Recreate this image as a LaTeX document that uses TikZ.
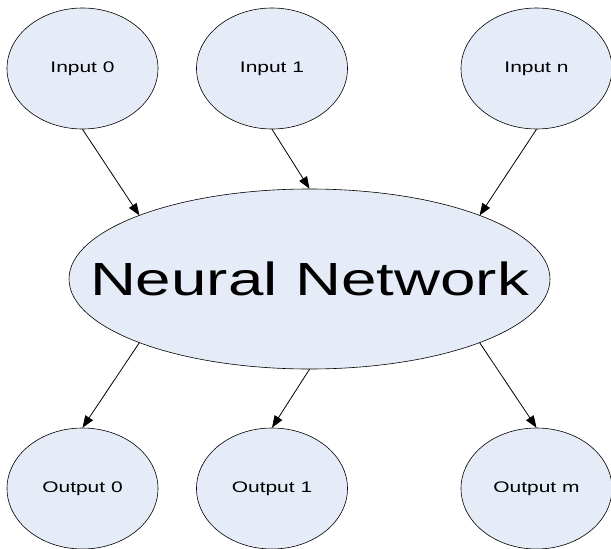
\documentclass[tikz,border=0pt]{standalone}
\usepackage{fontspec}
\setmainfont{Liberation Sans}
\newfontfamily\widesans[FakeStretch=1.37]{Liberation Sans}
\usetikzlibrary{shapes.geometric,arrows.meta,calc}
\definecolor{nodefill}{RGB}{230,236,247}
\begin{document}
\begin{tikzpicture}[x=1pt,y=-1pt,
  blob/.style={ellipse,draw=black,line width=0.6pt,fill=nodefill,inner sep=0pt},
  io/.style={blob,minimum width=151pt,minimum height=121pt,
    font=\widesans\fontsize{15.3}{18}\selectfont},
  core/.style={blob,minimum width=481pt,minimum height=180pt},
  corelabel/.style={inner sep=0pt,font=\widesans\fontsize{46.5}{55}\selectfont},
  link/.style={line width=0.8pt,-{Triangle[length=12pt,width=9pt]}}]
\useasboundingbox (0,0) rectangle (611,549);

% inputs
\node[io] (in0) at (82.5,68.5) {Input 0};
\node[io] (in1) at (272,68.5) {Input 1};
\node[io] (inn) at (536.5,68.5) {Input n};

% network: the ellipse keeps its own size, the title sits on it
\node[core] (nn) at (309.5,279) {};
\node[corelabel] (nntitle) at (nn.center) {Neural Network};

% outputs
\node[io] (out0) at (82.5,488.5) {Output 0};
\node[io] (out1) at (272,488.5) {Output 1};
\node[io] (outm) at (536.5,488.5) {Output m};

% contact points on the network border (45 degree steps of the ellipse)
\coordinate (nnNW) at ($(nn.center)+(-170.1,-63.6)$);
\coordinate (nnNE) at ($(nn.center)+(170.1,-63.6)$);
\coordinate (nnSW) at ($(nn.center)+(-170.1,63.6)$);
\coordinate (nnSE) at ($(nn.center)+(170.1,63.6)$);

\draw[link] (in0.south) -- (nnNW);
\draw[link] (in1.south) -- (nn.north);
\draw[link] (inn.south) -- (nnNE);

\draw[link] (nnSW) -- (out0.north);
\draw[link] (nn.south) -- (out1.north);
\draw[link] (nnSE) -- (outm.north);
\end{tikzpicture}
\end{document}
